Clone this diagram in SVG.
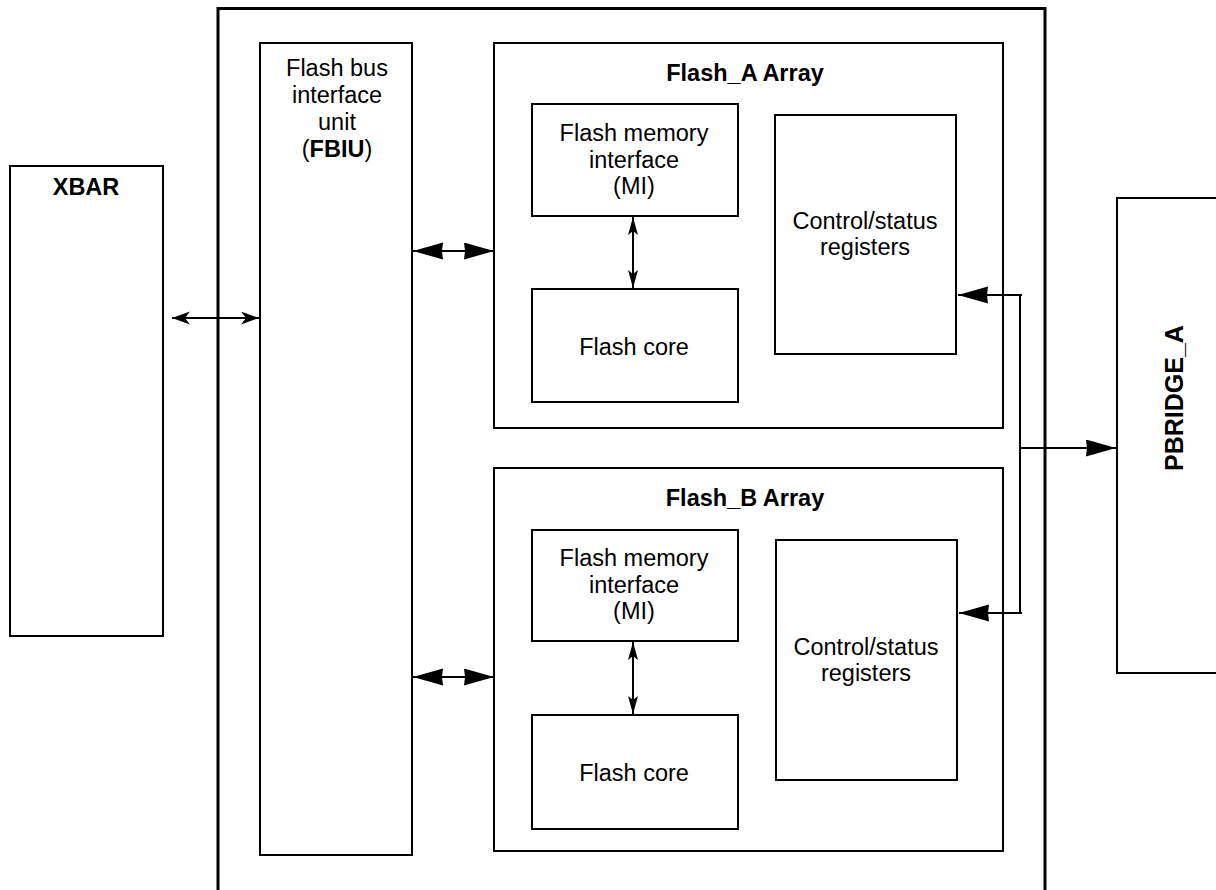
<svg xmlns="http://www.w3.org/2000/svg" width="1216" height="890" viewBox="0 0 1216 890">
<style>
.box{fill:#fff;stroke:#000;stroke-width:2}
.outer{fill:none;stroke:#000;stroke-width:3}
.t{font-family:"Liberation Sans",Arial,sans-serif;font-size:23.5px;text-anchor:middle;fill:#000}
.b{font-weight:bold}
.c{stroke:#000;stroke-width:2;fill:none}
</style>
<defs>
<marker id="big" markerUnits="userSpaceOnUse" markerWidth="32" markerHeight="18" refX="30" refY="8.5" orient="auto-start-reverse" viewBox="0 0 32 18">
<path d="M0,0 L30,8.5 L0,17 L1,8.5 z" fill="#000"/>
</marker>
<marker id="sm" markerUnits="userSpaceOnUse" markerWidth="20" markerHeight="14" refX="18" refY="6.5" orient="auto-start-reverse" viewBox="0 0 20 14">
<path d="M0,0 L18,6.5 L0,13 L5,6.5 z" fill="#000"/>
</marker>
<marker id="sv" markerUnits="userSpaceOnUse" markerWidth="20" markerHeight="12" refX="18" refY="5" orient="auto-start-reverse" viewBox="0 0 20 12">
<path d="M0,0 L18,5 L0,10 L4,5 z" fill="#000"/>
</marker>
</defs>
<rect width="1216" height="890" fill="#fff"/>
<g id="outer"><rect class="outer" x="218" y="8.5" width="827" height="890"/></g>
<g id="xbar"><rect class="box" x="10" y="166" width="153" height="470"/><text class="t b" x="86" y="195">XBAR</text></g>
<g id="pbridge"><rect class="box" x="1117" y="198" width="110" height="475"/><text class="t b" style="font-size:25px" transform="translate(1183,398) rotate(-90)">PBRIDGE_A</text></g>
<g id="fbiu"><rect class="box" x="260" y="43" width="152" height="812"/>
<text class="t" x="337" y="76">Flash bus</text><text class="t" x="337" y="103">interface</text><text class="t" x="337" y="130">unit</text><text class="t" x="337" y="157">(<tspan class="b">FBIU</tspan>)</text></g>
<g id="flashA"><rect class="box" x="494" y="43" width="509" height="385"/><text class="t b" x="745" y="81">Flash_A Array</text></g>
<g id="miA"><rect class="box" x="532" y="104" width="206" height="112"/><text class="t" x="634" y="141">Flash memory</text><text class="t" x="634" y="168">interface</text><text class="t" x="634" y="194">(MI)</text></g>
<g id="coreA"><rect class="box" x="532" y="289" width="206" height="113"/><text class="t" x="634" y="355">Flash core</text></g>
<g id="csrA"><rect class="box" x="775" y="115" width="181" height="239"/><text class="t" x="865" y="229">Control/status</text><text class="t" x="865" y="255">registers</text></g>
<g id="flashB"><rect class="box" x="494" y="468" width="509" height="383"/><text class="t b" x="745" y="506">Flash_B Array</text></g>
<g id="miB"><rect class="box" x="532" y="530" width="206" height="111"/><text class="t" x="634" y="566">Flash memory</text><text class="t" x="634" y="593">interface</text><text class="t" x="634" y="619">(MI)</text></g>
<g id="coreB"><rect class="box" x="532" y="715" width="206" height="114"/><text class="t" x="634" y="781">Flash core</text></g>
<g id="csrB"><rect class="box" x="776" y="540" width="181" height="240"/><text class="t" x="866" y="655">Control/status</text><text class="t" x="866" y="681">registers</text></g>
<g id="connectors">
<line class="c" x1="172" y1="318" x2="259" y2="318" marker-start="url(#sm)" marker-end="url(#sm)"/>
<line class="c" x1="413" y1="251" x2="494" y2="251" stroke-width="2.5" marker-start="url(#big)" marker-end="url(#big)"/>
<line class="c" x1="413" y1="677" x2="494" y2="677" stroke-width="2.5" marker-start="url(#big)" marker-end="url(#big)"/>
<line class="c" x1="633" y1="217" x2="633" y2="288" marker-start="url(#sv)" marker-end="url(#sv)"/>
<line class="c" x1="633" y1="642" x2="633" y2="714" marker-start="url(#sv)" marker-end="url(#sv)"/>
<line class="c" x1="1020" y1="295" x2="1020" y2="614"/>
<line class="c" x1="1022" y1="295" x2="958" y2="295" marker-end="url(#big)"/>
<line class="c" x1="1022" y1="613" x2="959" y2="613" marker-end="url(#big)"/>
<line class="c" x1="1020" y1="448" x2="1116" y2="448" marker-end="url(#big)"/>
</g>
</svg>
